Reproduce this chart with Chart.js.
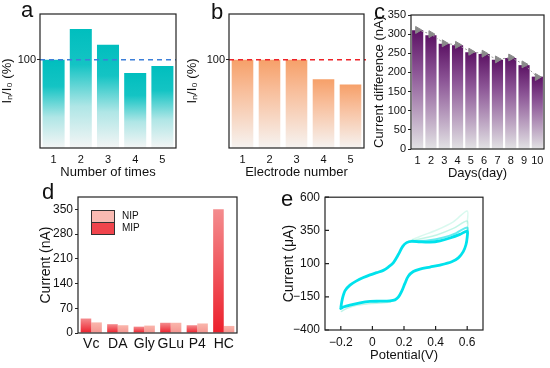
<!DOCTYPE html>
<html>
<head>
<meta charset="utf-8">
<script src="https://cdn.jsdelivr.net/npm/chart.js@4.4.1/dist/chart.umd.min.js"></script>
<style>
  body { margin: 0; background: #fff; }
  #wrap { position: relative; width: 550px; height: 368px; overflow: hidden; font-family: 'Liberation Sans', Arial, sans-serif; }
  canvas { position: absolute; }
  .tag { position: absolute; font-size: 22px; line-height: 22px; color: #111; }
</style>
</head>
<body>
<div id="wrap">
  <canvas id="cA" width="185" height="185" style="left:0;top:0"></canvas>
  <canvas id="cB" width="185" height="185" style="left:185px;top:0"></canvas>
  <canvas id="cC" width="180" height="185" style="left:370px;top:0"></canvas>
  <canvas id="cD" width="265" height="183" style="left:0;top:185px"></canvas>
  <canvas id="cE" width="285" height="183" style="left:265px;top:185px"></canvas>
  <div class="tag" style="left:21px;top:-1px">a</div>
  <div class="tag" style="left:211px;top:1px">b</div>
  <div class="tag" style="left:374px;top:1px">c</div>
  <div class="tag" style="left:42px;top:181px">d</div>
  <div class="tag" style="left:281px;top:188px">e</div>
</div>
<script>
// panel a
const aLabels = ['1', '2', '3', '4', '5'];
const aValues = [100, 135, 117, 85, 93];
// panel b
const bLabels = ['1', '2', '3', '4', '5'];
const bValues = [100, 100, 100, 78, 72];
const refValue = 100;
const abTicks = [100];
// panel c
const cLabels = ['1', '2', '3', '4', '5', '6', '7', '8', '9', '10'];
const cValues = [310, 297, 275, 271, 253, 248, 233, 238, 219, 189];
const cTrend = [311, 300, 276, 272, 254, 249, 234, 239, 221, 188];
// panel d
const dLabels = ['Vc', 'DA', 'Gly', 'GLu', 'P4', 'HC'];
const dMIP = [41, 25, 18, 29, 22, 350];
const dNIP = [30, 22, 21, 29, 27, 20];
const dTicks = [0, 70, 140, 210, 280, 350];
// panel e  (potential V, current uA)
const eLoop = [
  [-0.2, -232], [-0.19, -165], [-0.173, -104], [-0.142, -62], [-0.10, -30], [-0.057, -5],
  [-0.015, 15], [0.027, 32], [0.069, 49], [0.101, 74], [0.132, 106], [0.164, 168],
  [0.192, 230], [0.217, 258], [0.249, 268], [0.30, 264], [0.365, 262], [0.428, 272],
  [0.491, 293], [0.554, 320], [0.6, 345],
  [0.6, 300], [0.592, 242], [0.575, 190], [0.544, 143], [0.502, 114], [0.428, 89],
  [0.365, 74], [0.301, 59], [0.259, 40], [0.227, 5], [0.206, -49], [0.185, -109],
  [0.164, -153], [0.143, -173], [0.111, -180], [0.048, -183], [-0.015, -185],
  [-0.078, -195], [-0.142, -212], [-0.184, -227], [-0.2, -238], [-0.2, -232]
];
const eBand = [[0.25, 268], [0.35, 274], [0.45, 296], [0.53, 330], [0.6, 372], [0.6, 320]];
const eFaintA = [[0.217, 262], [0.30, 304], [0.407, 353], [0.512, 415], [0.6, 496], [0.6, 400]];
const eFaintB = [[0.217, 262], [0.30, 286], [0.407, 316], [0.512, 365], [0.6, 420], [0.6, 340]];
const eFaintLow = [[-0.2, -262], [-0.16, -236], [-0.1, -214], [-0.03, -203], [0.05, -196], [0.12, -190]];
const eTicksX = [-0.2, 0, 0.2, 0.4, 0.6];
const eTicksY = [-400, -150, 100, 350, 600];

const FONT = "'Liberation Sans', Arial, sans-serif";
Chart.defaults.font.family = FONT;
Chart.defaults.color = '#111';

const fixedWidth = w => s => { s.width = w; };
const fixedHeight = h => s => { s.height = h; };
const toXY = arr => arr.map(p => ({ x: p[0], y: p[1] }));
const minus = s => String(s).replace('-', '\u2212');

// gradient for each bar, from its top down to the axis
function barFill(stops) {
  return c => {
    const chart = c.chart, area = chart.chartArea;
    if (!area || c.raw == null) return stops[0][1];
    const top = chart.scales.y.getPixelForValue(c.raw);
    const g = chart.ctx.createLinearGradient(0, top, 0, area.bottom);
    stops.forEach(([o, col]) => g.addColorStop(o, col));
    return g;
  };
}

const framePlugin = {
  id: 'frame',
  afterDraw(chart, args, opts) {
    const { ctx, chartArea: a } = chart;
    ctx.save();
    ctx.strokeStyle = '#222';
    ctx.lineWidth = 1.2;
    ctx.strokeRect(a.left, a.top, a.right - a.left, a.bottom - a.top);
    if (opts && opts.innerTicks) {
      const x = chart.scales.x, y = chart.scales.y;
      ctx.beginPath();
      x.ticks.forEach(t => {
        const px = x.getPixelForValue(t.value);
        ctx.moveTo(px, a.bottom); ctx.lineTo(px, a.bottom - 4);
      });
      y.ticks.forEach(t => {
        const py = y.getPixelForValue(t.value);
        ctx.moveTo(a.left, py); ctx.lineTo(a.left + 4, py);
      });
      ctx.stroke();
    }
    ctx.restore();
  }
};

const refLinePlugin = {
  id: 'refLine',
  afterDatasetsDraw(chart, args, opts) {
    const { ctx, chartArea: a } = chart;
    const y = chart.scales.y.getPixelForValue(opts.value);
    ctx.save();
    ctx.setLineDash([5, 4]);
    ctx.strokeStyle = opts.color;
    ctx.lineWidth = 1.5;
    ctx.beginPath();
    ctx.moveTo(a.left, y);
    ctx.lineTo(a.right + (opts.extend || 0), y);
    ctx.stroke();
    ctx.restore();
  }
};

const boxLegendPlugin = {
  id: 'boxLegend',
  afterDraw(chart, args, opts) {
    const { ctx, chartArea: a } = chart;
    ctx.save();
    opts.order.forEach((i, k) => {
      const ds = chart.data.datasets[i];
      const x = a.left + 13, y = a.top + 13 + k * 12;
      ctx.fillStyle = opts.colors[k];
      ctx.fillRect(x, y, 23, 12);
      ctx.strokeStyle = '#333';
      ctx.lineWidth = 1;
      ctx.strokeRect(x + 0.5, y + 0.5, 23, 12);
      ctx.fillStyle = '#111';
      ctx.font = '10px ' + FONT;
      ctx.textBaseline = 'middle';
      ctx.fillText(ds.label, x + 31, y + 6.5);
    });
    ctx.restore();
  }
};

const tealStops = [[0, 'rgb(0,190,190)'], [0.3, 'rgb(20,196,196)'], [0.65, 'rgb(175,230,230)'], [1, 'rgb(244,245,245)']];
const orangeStops = [[0, 'rgb(246,160,105)'], [0.35, 'rgb(248,190,155)'], [1, 'rgb(246,243,241)']];
const purpleStops = [[0, 'rgb(92,18,100)'], [0.35, 'rgb(140,85,150)'], [1, 'rgb(226,226,228)']];
const mipStops = [[0, 'rgb(244,140,142)'], [1, 'rgb(236,32,44)']];
const nipStops = [[0, 'rgb(250,182,172)'], [1, 'rgb(244,150,145)']];

const flatTicks = size => ({ font: { size }, padding: 5, autoSkip: false, minRotation: 0, maxRotation: 0 });

function smallBarOptions(cfg) {
  return {
    responsive: false,
    animation: false,
    layout: { autoPadding: false, padding: cfg.padding },
    plugins: { legend: { display: false }, tooltip: { enabled: false }, refLine: cfg.ref || {} },
    scales: {
      x: {
        grid: { display: false, drawTicks: false }, border: { display: false },
        ticks: flatTicks(11),
        title: { display: true, text: cfg.xTitle, font: { size: 13 }, padding: { top: 0, bottom: cfg.xTitlePad } },
        afterFit: fixedHeight(cfg.xHeight)
      },
      y: cfg.y
    }
  };
}

const abY = (w) => ({
  min: 0, max: 152,
  afterBuildTicks: s => { s.ticks = abTicks.map(v => ({ value: v })); },
  grid: { drawOnChartArea: false, tickLength: 3, color: '#222' }, border: { display: false },
  ticks: { font: { size: 11 }, padding: 1 },
  title: { display: true, text: 'I\u2099/I\u2080 (%)', font: { size: 13 }, padding: { top: 0, bottom: 0 } },
  afterFit: fixedWidth(w)
});

// a
new Chart(document.getElementById('cA'), {
  type: 'bar',
  data: { labels: aLabels, datasets: [{ data: aValues, backgroundColor: barFill(tealStops), barPercentage: 0.81, categoryPercentage: 1 }] },
  options: smallBarOptions({
    padding: { left: 0, top: 14, right: 9, bottom: 0 }, xTitle: 'Number of times', xTitlePad: 5, xHeight: 37,
    ref: { value: refValue, color: '#3d7fd9' }, y: abY(40)
  }),
  plugins: [framePlugin, refLinePlugin]
});

// b
new Chart(document.getElementById('cB'), {
  type: 'bar',
  data: { labels: bLabels, datasets: [{ data: bValues, backgroundColor: barFill(orangeStops), barPercentage: 0.8, categoryPercentage: 1 }] },
  options: smallBarOptions({
    padding: { left: 0, top: 14, right: 6, bottom: 0 }, xTitle: 'Electrode number', xTitlePad: 5, xHeight: 37,
    ref: { value: refValue, color: '#ee2228', extend: 2 }, y: abY(44)
  }),
  plugins: [framePlugin, refLinePlugin]
});

// c
new Chart(document.getElementById('cC'), {
  type: 'bar',
  data: {
    labels: cLabels,
    datasets: [
      { type: 'line', data: cTrend, borderColor: '#9b9b9b', borderWidth: 1, borderDash: [2, 2],
        pointStyle: 'triangle', rotation: 90, pointRadius: 4, pointBackgroundColor: '#8a8a8a',
        pointBorderColor: '#8a8a8a', order: 0 },
      { type: 'bar', data: cValues, backgroundColor: barFill(purpleStops), barPercentage: 0.84, categoryPercentage: 1, order: 1 }
    ]
  },
  options: smallBarOptions({
    padding: { left: 0, top: 15, right: 6, bottom: 0 }, xTitle: 'Days(day)', xTitlePad: 4, xHeight: 36,
    y: {
      min: 0, max: 350, ticks: { stepSize: 50, font: { size: 11 }, padding: 2 },
      grid: { drawOnChartArea: false, tickLength: 3, color: '#222' }, border: { display: false },
      title: { display: true, text: 'Current difference (nA)', font: { size: 13 }, padding: { top: 2, bottom: 0 } },
      afterFit: fixedWidth(41)
    }
  }),
  plugins: [framePlugin]
});

// d
new Chart(document.getElementById('cD'), {
  type: 'bar',
  data: {
    labels: dLabels,
    datasets: [
      { label: 'MIP', data: dMIP, backgroundColor: barFill(mipStops), barPercentage: 1, categoryPercentage: 0.8 },
      { label: 'NIP', data: dNIP, backgroundColor: barFill(nipStops), barPercentage: 1, categoryPercentage: 0.8 }
    ]
  },
  options: {
    responsive: false,
    animation: false,
    layout: { autoPadding: false, padding: { left: 30, top: 12, right: 28, bottom: 0 } },
    plugins: {
      legend: { display: false }, tooltip: { enabled: false },
      boxLegend: { order: [1, 0], colors: ['#f9bab2', '#f0444c'] }
    },
    scales: {
      x: {
        grid: { display: false, drawTicks: false }, border: { display: false },
        ticks: Object.assign(flatTicks(14), { padding: 3 }),
        afterFit: fixedHeight(35)
      },
      y: {
        min: 0, max: 385,
        afterBuildTicks: s => { s.ticks = dTicks.map(v => ({ value: v })); },
        grid: { drawOnChartArea: false, tickLength: 3, color: '#222' }, border: { display: false },
        ticks: { font: { size: 12 }, padding: 2 },
        title: { display: true, text: 'Current (nA)', font: { size: 14 }, padding: { top: 8, bottom: 0 } },
        afterFit: fixedWidth(48)
      }
    }
  },
  plugins: [framePlugin, boxLegendPlugin]
});

// e
const lineDs = (pts, color, width) => ({
  data: toXY(pts), borderColor: color, borderWidth: width, pointRadius: 0, tension: 0.3, fill: false
});
new Chart(document.getElementById('cE'), {
  type: 'line',
  data: {
    datasets: [
      lineDs(eLoop, '#00e2ec', 2.8),
      lineDs(eBand, 'rgba(0,222,226,0.6)', 2),
      lineDs(eFaintLow, 'rgba(120,230,205,0.45)', 1.5),
      lineDs(eFaintB, 'rgba(120,232,200,0.45)', 1.5),
      lineDs(eFaintA, 'rgba(160,240,215,0.4)', 1.5)
    ]
  },
  options: {
    responsive: false,
    animation: false,
    layout: { autoPadding: false, padding: { left: 10, top: 11, right: 67, bottom: 0 } },
    plugins: { legend: { display: false }, tooltip: { enabled: false }, frame: { innerTicks: true } },
    scales: {
      x: {
        type: 'linear', min: -0.3, max: 0.7,
        afterBuildTicks: s => { s.ticks = eTicksX.map(v => ({ value: v })); },
        grid: { display: false, drawTicks: false }, border: { display: false },
        ticks: { font: { size: 12 }, padding: 5, maxRotation: 0, callback: v => v === 0 ? '0' : minus(v.toFixed(1)) },
        title: { display: true, text: 'Potential(V)', font: { size: 13 }, padding: { top: 0, bottom: 5 } },
        afterFit: fixedHeight(38)
      },
      y: {
        min: -400, max: 600,
        afterBuildTicks: s => { s.ticks = eTicksY.map(v => ({ value: v })); },
        grid: { display: false, drawTicks: false }, border: { display: false },
        ticks: { font: { size: 12 }, padding: 5, callback: v => minus(v) },
        title: { display: true, text: 'Current (\u03bcA)', font: { size: 14 }, padding: { top: 6, bottom: 0 } },
        afterFit: fixedWidth(50)
      }
    }
  },
  plugins: [framePlugin]
});
</script>
</body>
</html>
